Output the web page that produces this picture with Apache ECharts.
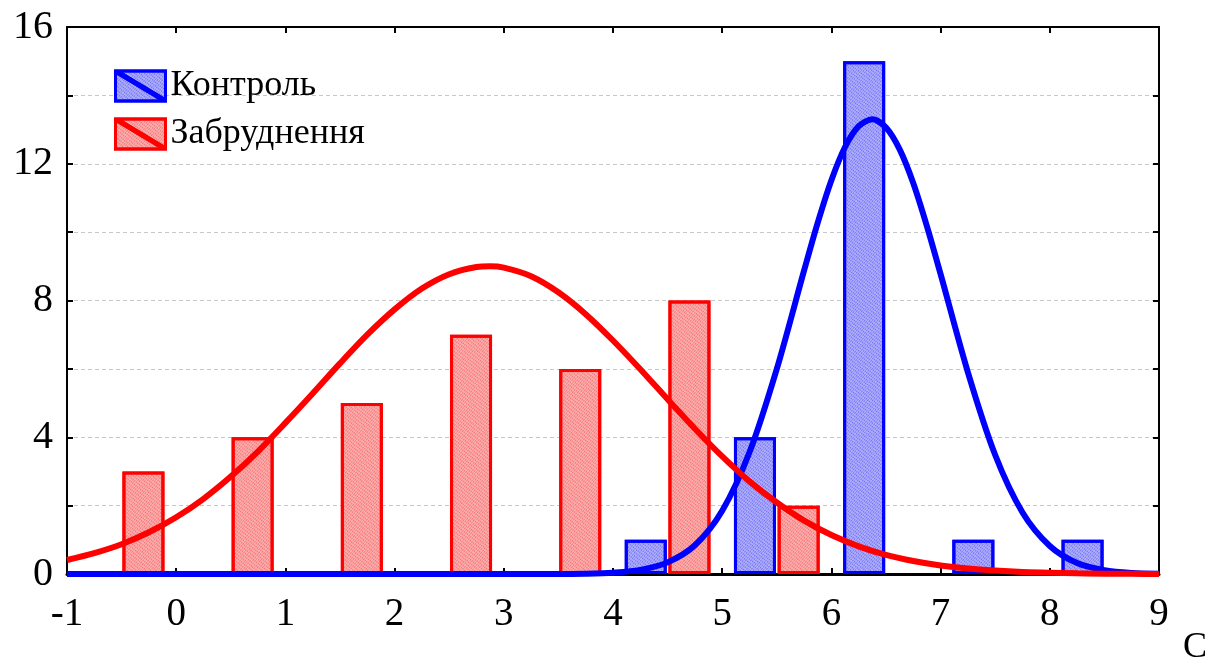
<!DOCTYPE html>
<html>
<head>
<meta charset="utf-8">
<script src="https://cdn.jsdelivr.net/npm/echarts@6/dist/echarts.min.js"></script>
<style>
  html, body { margin: 0; padding: 0; background: #fff; }
  #chart { width: 1218px; height: 659px; }
</style>
</head>
<body>
<div id="chart"></div>
<script>
// Histogram bins (bin centres) and counts
const controlBins = [4.3, 5.3, 6.3, 7.3, 8.3];
const controlCounts = [1, 4, 15, 1, 1];
const pollutionBins = [-0.3, 0.7, 1.7, 2.7, 3.7, 4.7, 5.7];
const pollutionCounts = [3, 4, 5, 7, 6, 8, 2];

// Fitted normal curves, sampled along x
const controlCurveX = [-1, -0.5, 0, 0.5, 1, 1.5, 2, 2.5, 3, 3.5, 3.75, 4, 4.25, 4.5, 4.75, 5, 5.25, 5.5, 5.75, 5.875, 6, 6.125, 6.25, 6.375, 6.5, 6.625, 6.75, 6.875, 7, 7.25, 7.5, 7.75, 8, 8.25, 8.5, 8.75, 9];
const controlCurveY = [0, 0, 0, 0, 0, 0, 0, 0, 0, 0, 0.01, 0.04, 0.12, 0.34, 0.84, 1.85, 3.56, 6.0, 8.88, 10.28, 11.52, 12.49, 13.1, 13.3, 13.06, 12.42, 11.43, 10.17, 8.77, 5.9, 3.48, 1.8, 0.82, 0.32, 0.11, 0.03, 0.01];
const pollutionCurveX = [-1, -0.75, -0.5, -0.25, 0, 0.25, 0.5, 0.75, 1, 1.25, 1.5, 1.75, 2, 2.25, 2.5, 2.75, 2.875, 3, 3.25, 3.5, 3.75, 4, 4.25, 4.5, 4.75, 5, 5.25, 5.5, 5.75, 6, 6.25, 6.5, 6.75, 7, 7.25, 7.5, 7.75, 8, 8.25, 8.5, 8.75, 9];
const pollutionCurveY = [0.41, 0.61, 0.87, 1.22, 1.66, 2.2, 2.85, 3.59, 4.42, 5.28, 6.16, 7.0, 7.74, 8.35, 8.77, 8.98, 9.0, 8.96, 8.71, 8.24, 7.6, 6.83, 5.99, 5.11, 4.25, 3.44, 2.71, 2.09, 1.56, 1.14, 0.81, 0.56, 0.38, 0.25, 0.16, 0.1, 0.06, 0.04, 0.02, 0.01, 0.01, 0];

// Axis ranges and tick labels
const xRange = [-1, 9];
const yRange = [0, 16];
const yLabelValues = [0, 4, 8, 12, 16];

const nameControl = 'Контроль';
const namePollution = 'Забруднення';

const BLUE = '#0000ff';
const RED = '#ff0000';
const BLUE_FILL = '#b0b0f8';
const RED_FILL = '#f8b0b0';
const FONT = '"Liberation Serif", "Times New Roman", serif';

const zip = (xs, ys) => xs.map((x, i) => [x, ys[i]]);

const chart = echarts.init(document.getElementById('chart'), null, { renderer: 'canvas' });

// Legend swatch: framed box crossed by a diagonal bar
const legendIcon = 'path://M0 0H50V30H0Z M0 0L2 0L50 28.8L50 30L48 30L0 1.2Z';

const frameLine = { show: true, onZero: false, lineStyle: { color: '#000', width: 2 } };
const innerTick = { show: true, inside: true, length: 6, lineStyle: { color: '#000', width: 2 } };

const hatch = c => ({ symbol: 'rect', symbolSize: 1, color: c, dashArrayX: [2, 1], dashArrayY: [1, 1], rotation: -0.9 });

chart.setOption({
  animation: false,
  backgroundColor: '#fff',
  grid: { left: 67, right: 59, top: 27, bottom: 85, containLabel: false, outerBoundsMode: 'none' },
  legend: {
    orient: 'vertical',
    left: 114,
    top: 68,
    padding: 0,
    itemWidth: 50,
    itemHeight: 30,
    itemGap: 12,
    textStyle: { fontFamily: FONT, fontSize: 36, color: '#000', padding: [0, 0, 0, 0] },
    data: [
      { name: nameControl, icon: legendIcon, itemStyle: { color: BLUE_FILL, borderColor: BLUE, borderWidth: 3 } },
      { name: namePollution, icon: legendIcon, itemStyle: { color: RED_FILL, borderColor: RED, borderWidth: 3 } }
    ]
  },
  xAxis: [
    {
      type: 'value', min: xRange[0], max: xRange[1], interval: 1,
      axisLine: { show: true, onZero: false, lineStyle: { color: '#000', width: 3 } },
      axisTick: innerTick,
      splitLine: { show: false },
      axisLabel: { fontFamily: FONT, fontSize: 39, color: '#000', margin: 21 },
      name: 'C', nameLocation: 'end', nameGap: 24,
      nameTextStyle: { fontFamily: FONT, fontSize: 36, color: '#000', verticalAlign: 'top', padding: [56, 0, 0, 0] }
    },
    {
      type: 'value', position: 'top', min: xRange[0], max: xRange[1], interval: 1,
      axisLine: frameLine, axisTick: innerTick,
      axisLabel: { show: false }, splitLine: { show: false }
    }
  ],
  yAxis: [
    {
      type: 'value', min: yRange[0], max: yRange[1], interval: 2,
      axisLine: frameLine, axisTick: innerTick,
      axisLabel: {
        fontFamily: FONT, fontSize: 40, color: '#000', margin: 14,
        formatter: v => (yLabelValues.includes(v) ? String(v) : '')
      },
      splitLine: { show: true, lineStyle: { color: '#c8c8c8', type: [4, 3], width: 1 } }
    },
    {
      type: 'value', position: 'right', min: yRange[0], max: yRange[1], interval: 2,
      axisLine: frameLine, axisTick: innerTick,
      axisLabel: { show: false }, splitLine: { show: false }
    }
  ],
  series: [
    {
      name: nameControl, type: 'bar', barWidth: 42, barGap: '-100%',
      data: zip(controlBins, controlCounts),
      itemStyle: { color: BLUE_FILL, borderColor: BLUE, borderWidth: 3, decal: hatch('rgba(40,40,255,0.45)') },
      z: 2
    },
    {
      name: namePollution, type: 'bar', barWidth: 42, barGap: '-100%',
      data: zip(pollutionBins, pollutionCounts),
      itemStyle: { color: RED_FILL, borderColor: RED, borderWidth: 3, decal: hatch('rgba(255,40,40,0.45)') },
      z: 2
    },
    {
      name: nameControl, type: 'line', smooth: 0.3, showSymbol: false, symbol: 'none',
      data: zip(controlCurveX, controlCurveY),
      lineStyle: { color: BLUE, width: 6 }, itemStyle: { color: BLUE },
      z: 3
    },
    {
      name: namePollution, type: 'line', smooth: 0.3, showSymbol: false, symbol: 'none',
      data: zip(pollutionCurveX, pollutionCurveY),
      lineStyle: { color: RED, width: 6 }, itemStyle: { color: RED },
      z: 4
    }
  ]
});
</script>
</body>
</html>
